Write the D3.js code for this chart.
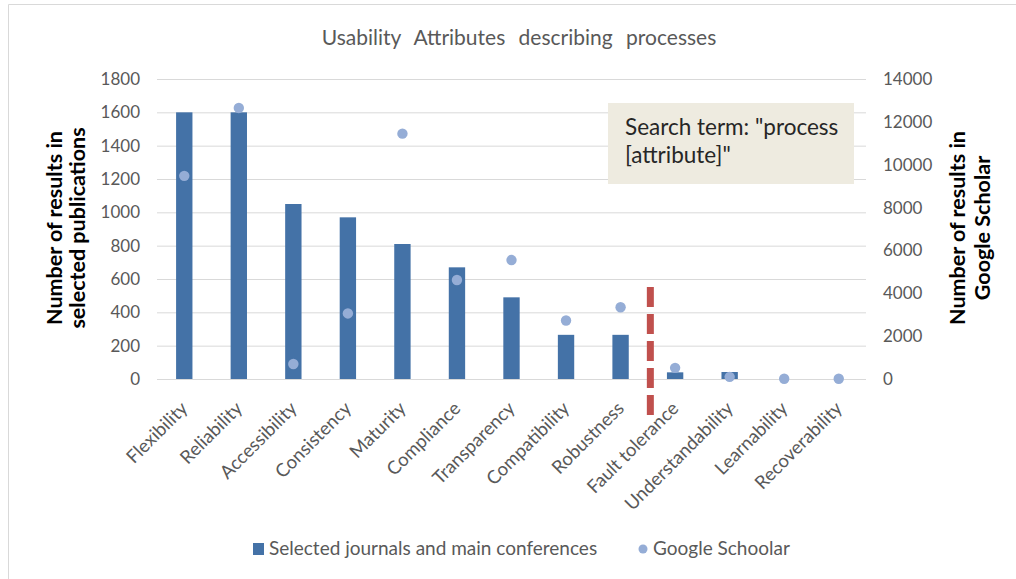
<!DOCTYPE html>
<html><head><meta charset="utf-8">
<script src="https://cdn.jsdelivr.net/npm/d3@7"></script>
<style>body{margin:0;background:#fff;} svg{display:block;font-family:Lato,"Open Sans",sans-serif;}</style>
</head><body>
<svg id="chart" width="1016" height="579"></svg>
<script>
const categories = ["Flexibility","Reliability","Accessibility","Consistency","Maturity","Compliance","Transparency","Compatibility","Robustness","Fault tolerance","Understandability","Learnability","Recoverability"];
const journalValues = [1600,1600,1050,970,810,670,490,265,265,40,42,0,0];
const scholarValues = [9480,12650,700,3060,11450,4620,5550,2730,3350,520,100,10,10];
const leftTicks = [0,200,400,600,800,1000,1200,1400,1600,1800];
const rightTicks = [0,2000,4000,6000,8000,10000,12000,14000];
const seriesNames = ["Selected journals and main conferences","Google Schoolar"];
const title = "Usability Attributes describing processes";
const leftTitle = ["Number of results in","selected publications"];
const rightTitle = ["Number of results in","Google Scholar"];
const noteLines = ["Search term: \"process","[attribute]\""];
const cutoffIndex = 9; // dashed line before "Fault tolerance"
const cutoffTop = 552;

const svg = d3.select("#chart");
const L = 157, R = 866, T = 79, B = 379;
const grey = "#595959";
const font = "Lato,'Open Sans',sans-serif";

svg.append("path").attr("d","M8.5,579V4.5H1016").attr("fill","none").attr("stroke","#d9d9d9");

const x = d3.scaleBand().domain(categories).range([L,R]).paddingInner(0.7).paddingOuter(0.35);
const yL = d3.scaleLinear().domain([0,1800]).range([B,T]);
const yR = d3.scaleLinear().domain([0,14000]).range([B,T]);

// gridlines
svg.append("g").selectAll("line").data(leftTicks).join("line")
  .attr("x1",L).attr("x2",R).attr("y1",d=>yL(d)+0.5).attr("y2",d=>yL(d)+0.5)
  .attr("stroke","#d9d9d9").attr("stroke-width",1);

// left axis
const gl = svg.append("g").attr("transform",`translate(${L-17},0)`)
  .call(d3.axisLeft(yL).tickValues(leftTicks).tickFormat(d3.format("d")).tickSize(0).tickPadding(0));
gl.select(".domain").remove();
gl.selectAll("text").attr("fill",grey).style("font-size","17px").style("font-family",font);

// right axis
const gr = svg.append("g").attr("transform",`translate(${R+17},0)`)
  .call(d3.axisRight(yR).tickValues(rightTicks).tickFormat(d3.format("d")).tickSize(0).tickPadding(0));
gr.select(".domain").remove();
gr.selectAll("text").attr("fill",grey).style("font-size","17px").style("font-family",font);

// bars
svg.append("g").selectAll("rect").data(journalValues).join("rect")
  .attr("x",(d,i)=>x(categories[i])).attr("width",x.bandwidth())
  .attr("y",d=>yL(d)).attr("height",d=>B-yL(d)).attr("fill","#4472a7");

// dots
svg.append("g").selectAll("circle").data(scholarValues).join("circle")
  .attr("cx",(d,i)=>x(categories[i])+x.bandwidth()/2).attr("cy",d=>yR(d))
  .attr("r",5.2).attr("fill","#95add6");

// dashed cutoff
const cx = (x(categories[cutoffIndex-1]) + x(categories[cutoffIndex]))/2 + x.bandwidth()/2 + 2.5;
svg.append("line").attr("x1",cx).attr("x2",cx).attr("y1",yL(cutoffTop)).attr("y2",415)
  .attr("stroke","#c0504d").attr("stroke-width",7).attr("stroke-dasharray","20,7");

// x labels
const xa = svg.append("g");
categories.forEach((c,i)=>{
  const px = x(c)+x.bandwidth()/2, py = 405;
  xa.append("text").attr("transform",`translate(${px},${py}) rotate(-45)`)
    .attr("text-anchor","end").attr("dy","0.35em").attr("fill",grey)
    .style("font-size","18.5px").text(c);
});

// title
svg.append("text").attr("x",519).attr("y",45).attr("text-anchor","middle")
  .attr("fill",grey).style("font-size","21px").style("word-spacing","8px").text(title);

// axis titles
const lt = svg.append("text").attr("transform","translate(66,228) rotate(-90)")
  .attr("text-anchor","middle").attr("font-weight","bold").style("font-size","21.5px").attr("fill","#000");
lt.append("tspan").attr("x",0).attr("y",-4).text(leftTitle[0]);
lt.append("tspan").attr("x",0).attr("y",19).text(leftTitle[1]);
const rt = svg.append("text").attr("transform","translate(970,228) rotate(-90)")
  .attr("text-anchor","middle").attr("font-weight","bold").style("font-size","21.5px").attr("fill","#000");
rt.append("tspan").attr("x",0).attr("y",-5).text(rightTitle[0]);
rt.append("tspan").attr("x",0).attr("y",20).text(rightTitle[1]);

// note box
svg.append("rect").attr("x",608).attr("y",103).attr("width",246).attr("height",81).attr("fill","#eeebe0");
const nt = svg.append("text").attr("fill","#262626").style("font-size","22.5px");
noteLines.forEach((s,i)=>nt.append("tspan").attr("x",625).attr("y",135+i*28).text(s));

// legend
svg.append("rect").attr("x",253).attr("y",543).attr("width",11).attr("height",12).attr("fill","#4472a7");
svg.append("text").attr("x",269).attr("y",555).attr("fill",grey).style("font-size","19px").text(seriesNames[0]);
svg.append("circle").attr("cx",643).attr("cy",549).attr("r",4.5).attr("fill","#95add6");
svg.append("text").attr("x",653).attr("y",555).attr("fill",grey).style("font-size","19px").text(seriesNames[1]);
</script>
</body></html>
